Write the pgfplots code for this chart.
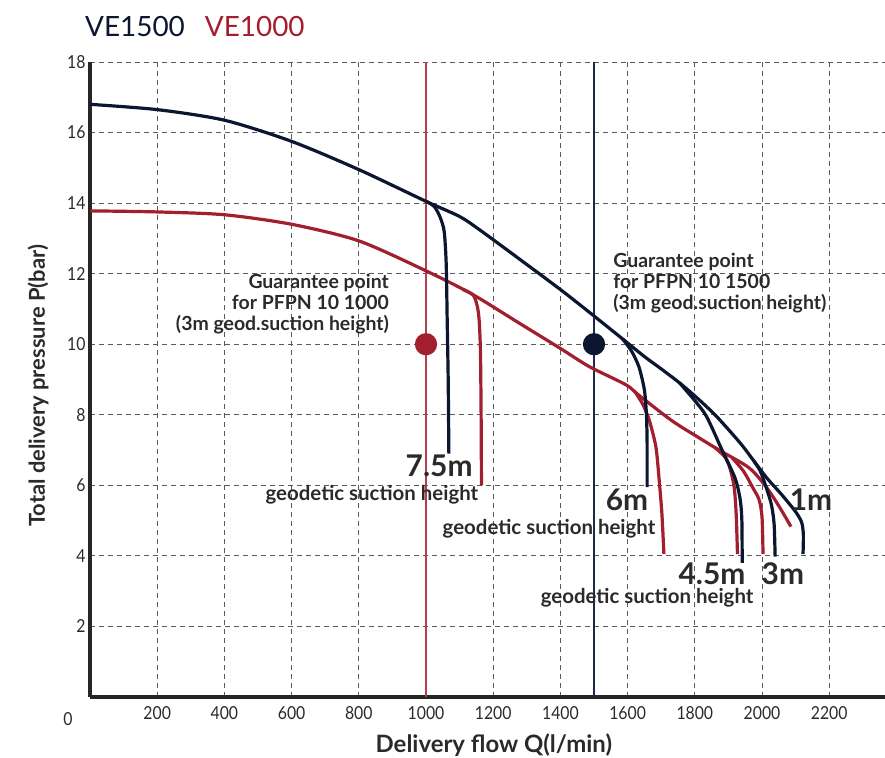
\documentclass[border=0pt]{standalone}
\usepackage{fontspec}
\setmainfont{Lato}
\newfontfamily\tickfont[FakeStretch=0.88]{Lato}
\newfontfamily\titlefont{Lato}
\usepackage{pgfplots}
\pgfplotsset{compat=1.18}
\definecolor{navy}{HTML}{0B1630}
\definecolor{wine}{HTML}{A11F2E}
\definecolor{navyline}{HTML}{1D2A45}
\definecolor{wineline}{HTML}{B53E4C}
\definecolor{txt}{HTML}{2A2A2A}
\begin{document}
\begin{tikzpicture}
\path[use as bounding box] (-90bp,-61bp) rectangle (795bp,697bp);
\begin{axis}[
  scale only axis,
  width=795bp, height=635bp,
  xmin=0, xmax=2366, ymin=0, ymax=18,
  axis lines=left,
  axis line style={-, line width=3.5bp, color=black!85},
  xtick={200,400,...,2200},
  ytick={2,4,...,18},
  major tick length=0pt,
  grid=major,
  major grid style={dash pattern=on 5bp off 4bp, line width=0.9bp, color=black!65},
  xticklabel style={font=\tickfont\fontsize{18}{20}\selectfont, text=txt, anchor=north, yshift=-6bp},
  yticklabel style={font=\tickfont\fontsize{18}{20}\selectfont, text=txt, anchor=east, xshift=-1bp},
  scaled ticks=false,
  xticklabel={\pgfmathprintnumber[fixed,precision=0,1000 sep={}]{\tick}},
  /pgf/number format/assume math mode=true,
  clip=false,
  every axis plot/.append style={line width=3.2bp, smooth, tension=0.45},
]
% reference lines
\addplot[wineline, line width=1.8bp, sharp plot] coordinates {(1000,0) (1000,18)};
\addplot[navyline, line width=1.8bp, sharp plot] coordinates {(1500,0) (1500,18)};

% VE1000 (red)
\addplot[wine] coordinates {(0,13.78) (200,13.75) (400,13.67) (600,13.4) (800,12.93) (1000,12.08) (1137,11.42) (1277,10.6) (1400,9.88) (1485,9.37) (1595,8.85) (1634,8.55) (1732,7.83) (1812,7.35) (1872,7.0) (1961,6.5) (2012,5.96) (2051,5.4) (2086,4.83)};
\addplot[wine] coordinates {(1110,11.55) (1140,11.4) (1152,11.1) (1158,10.7) (1162,9.8) (1164,8.0) (1165,6.0)};
\addplot[wine] coordinates {(1620,8.68) (1645,8.3) (1664,7.86) (1684,7.1) (1693,6.25) (1702,5.2) (1708,4.05)};
\addplot[wine] coordinates {(1860,7.07) (1890,6.8) (1904,6.5) (1917,5.96) (1923,5.2) (1927,4.05)};
\addplot[wine] coordinates {(1911,6.78) (1945,6.4) (1971,5.96) (1991,5.6) (2000,5.1) (2003,4.05)};

% VE1500 (navy)
\addplot[navy] coordinates {(0,16.8) (200,16.65) (400,16.35) (600,15.75) (800,14.95) (1000,14.05) (1100,13.62) (1160,13.24) (1280,12.4) (1400,11.55) (1500,10.8) (1585,10.15) (1650,9.65) (1700,9.3) (1755,8.9) (1810,8.45) (1865,7.95) (1935,7.2) (1975,6.7) (2015,6.2) (2060,5.72) (2100,5.25) (2118,4.95) (2123,4.6) (2122,4.05)};
\addplot[navy] coordinates {(1000,14.05) (1025,13.9) (1042,13.6) (1054,13.2) (1060,12.3) (1063,10.7) (1066,9) (1068,6.9)};
\addplot[navy] coordinates {(1585,10.15) (1612,9.8) (1634,9.35) (1650,8.7) (1656,8.0) (1658,7.2) (1658,5.95)};
\addplot[navy] coordinates {(1755,8.9) (1800,8.4) (1835,7.95) (1881,7.0) (1920,6.2) (1935,5.6) (1940,5.0) (1941,3.8)};
\addplot[navy] coordinates {(1975,6.7) (1995,6.4) (2012,5.95) (2028,5.45) (2036,4.9) (2039,3.98)};

% guarantee points
\addplot[only marks, mark=*, mark size=9.5bp, color=wine] coordinates {(1000,10)};
\addplot[only marks, mark=*, mark size=9.5bp, color=navy] coordinates {(1500,10)};

% annotations
\node[anchor=east, align=right, text=txt, inner sep=2bp, font=\bfseries\fontsize{19.5}{21}\selectfont] at (axis cs:896,11.15) {Guarantee point\\for PFPN 10 1000\\(3m geod.suction height)};
\node[anchor=west, align=left, text=txt, inner sep=2bp, font=\bfseries\fontsize{19.5}{21}\selectfont] at (axis cs:1551,11.74) {Guarantee point\\for PFPN 10 1500\\(3m geod.suction height)};
\node[text=txt, inner sep=0pt, font=\bfseries\fontsize{30}{32}\selectfont] at (axis cs:1039,6.54) {7.5m};
\node[text=txt, inner sep=0pt, font=\bfseries\fontsize{30}{32}\selectfont] at (axis cs:1598,5.6) {6m};
\node[text=txt, inner sep=0pt, font=\bfseries\fontsize{30}{32}\selectfont] at (axis cs:1851,3.5) {4.5m};
\node[text=txt, inner sep=0pt, font=\bfseries\fontsize{30}{32}\selectfont] at (axis cs:2062,3.5) {3m};
\node[text=txt, inner sep=0pt, font=\bfseries\fontsize{30}{32}\selectfont] at (axis cs:2146,5.6) {1m};
\node[text=txt, inner sep=0pt, font=\bfseries\fontsize{20.5}{22}\selectfont] at (axis cs:839,5.74) {geodetic suction height};
\node[text=txt, inner sep=0pt, font=\bfseries\fontsize{20.5}{22}\selectfont] at (axis cs:1366,4.78) {geodetic suction height};
\node[text=txt, inner sep=0pt, font=\bfseries\fontsize{20.5}{22}\selectfont] at (axis cs:1658,2.8) {geodetic suction height};

% origin label, axis labels, title
\node[text=txt, font=\tickfont\fontsize{18}{20}\selectfont] at (rel axis cs:-0.0277,-0.034) {0};
\node[rotate=90, text=txt, font=\bfseries\fontsize{22}{26}\selectfont] at (rel axis cs:-0.0654,0.49) {Total delivery pressure P(bar)};
\node[text=txt, font=\bfseries\fontsize{24}{28}\selectfont] at (rel axis cs:0.508,-0.0756) {Delivery flow Q(l/min)};
\node[anchor=west, font=\titlefont\fontsize{28}{30}\selectfont, inner sep=0pt] at ([xshift=-5bp, yshift=35bp]rel axis cs:0,1) {\textcolor{navy}{VE1500}\hspace{20bp}\textcolor{wine}{VE1000}};
\end{axis}
\end{tikzpicture}
\end{document}
